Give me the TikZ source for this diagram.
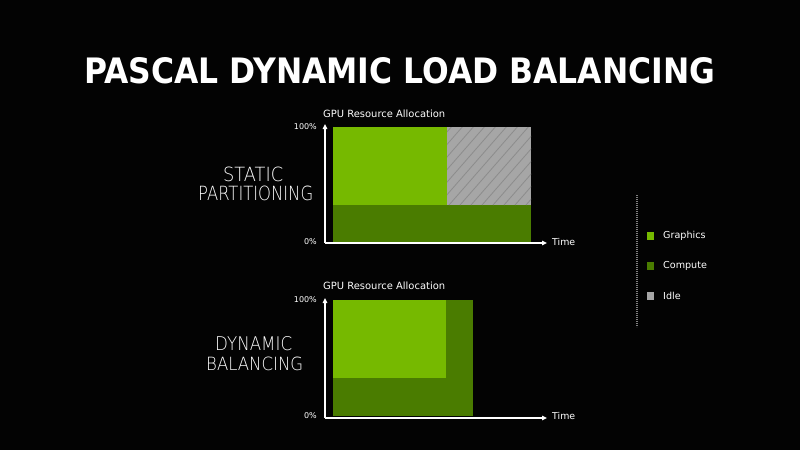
\documentclass[tikz,border=0pt]{standalone}
\usepackage{fontspec}
\setmainfont{DejaVu Sans}
\newfontfamily\thinfont{DejaVu Sans ExtraLight}
\usetikzlibrary{arrows.meta}
\definecolor{gfx}{HTML}{76B900}
\definecolor{cmp}{HTML}{4A7C00}
\definecolor{idle}{HTML}{A6A6A6}
\definecolor{hatchc}{HTML}{8C8C8C}
\definecolor{bgc}{HTML}{030303}
\begin{document}
\begin{tikzpicture}[x=1pt,y=-1pt,
  txt/.style={inner sep=0pt, text=white},
  small/.style={txt, font=\fontsize{8}{9}\selectfont},
  legtxt/.style={txt, font=\fontsize{9.6}{11}\selectfont, anchor=west},
  axisline/.style={white, line width=1.3pt, -{Triangle[length=5pt,width=4.5pt]}},
  swatch/.style={inner sep=0pt, minimum width=7.5pt, minimum height=8pt}]
\useasboundingbox[fill=bgc] (0,0) rectangle (800,450);

% title
\node[txt, anchor=base west] (title) at (84,83)
  {\resizebox{631pt}{26pt}{\bfseries PASCAL DYNAMIC LOAD BALANCING}};

% ---------- static partitioning ----------
\node[txt, anchor=base west] (st1) at (223,181.5) {\resizebox{60pt}{14.5pt}{\thinfont STATIC}};
\node[txt, anchor=base west] (st2) at (198,200.5) {\resizebox{115pt}{14.5pt}{\thinfont PARTITIONING}};

\fill[cmp] (333,205) rectangle (531,242);
\fill[gfx] (333,127) rectangle (447,205);
\fill[idle] (447,127) rectangle (531,205);
\begin{scope}
  \clip (447,127) rectangle (531,205);
  \foreach \i in {372,383,...,540}
    \draw[hatchc, line width=0.8pt] (\i,205) -- ++(70,-80);
\end{scope}

\coordinate (o1) at (325,243);
\coordinate (y1) at (325,124);
\coordinate (x1) at (547,243);
\draw[axisline] (o1) -- (y1);
\draw[axisline] (o1) -- (x1);

\node[txt, anchor=base west] (g1) at (323,117) {\resizebox{122pt}{!}{GPU Resource Allocation}};
\node[small, anchor=east] (p100a) at (317,127) {100\%};
\node[small, anchor=east] (p0a) at (317,242) {0\%};
\node[txt, anchor=west] (t1) at (552,242) {\resizebox{23pt}{!}{Time}};

% ---------- dynamic balancing ----------
\node[txt, anchor=base west] (dy1) at (215,350) {\resizebox{77pt}{14pt}{\thinfont DYNAMIC}};
\node[txt, anchor=base west] (dy2) at (206,370) {\resizebox{97pt}{13.5pt}{\thinfont BALANCING}};

\fill[cmp] (333,300) rectangle (473,416);
\fill[gfx] (333,300) rectangle (446,378);

\coordinate (o2) at (325,418);
\coordinate (y2) at (325,298);
\coordinate (x2) at (547,418);
\draw[axisline] (o2) -- (y2);
\draw[axisline] (o2) -- (x2);

\node[txt, anchor=base west] (g2) at (323,289) {\resizebox{122pt}{!}{GPU Resource Allocation}};
\node[small, anchor=east] (p100b) at (317,300) {100\%};
\node[small, anchor=east] (p0b) at (317,416) {0\%};
\node[txt, anchor=west] (t2) at (552,416) {\resizebox{23pt}{!}{Time}};

% ---------- legend ----------
\coordinate (d1) at (637,195);
\coordinate (d2) at (637,327);
\draw[gray, line width=1.2pt, dash pattern=on 0.8pt off 1.2pt] (d1) -- (d2);

\node[swatch, fill=gfx] (sg) at (650.5,236) {};
\node[swatch, fill=cmp] (sc) at (650.5,266) {};
\node[swatch, fill=idle] (si) at (650.5,296) {};
\node[legtxt] (lg) at (663,236) {Graphics};
\node[legtxt] (lc) at (663,265.5) {Compute};
\node[legtxt] (li) at (663,296) {Idle};
\end{tikzpicture}
\end{document}
